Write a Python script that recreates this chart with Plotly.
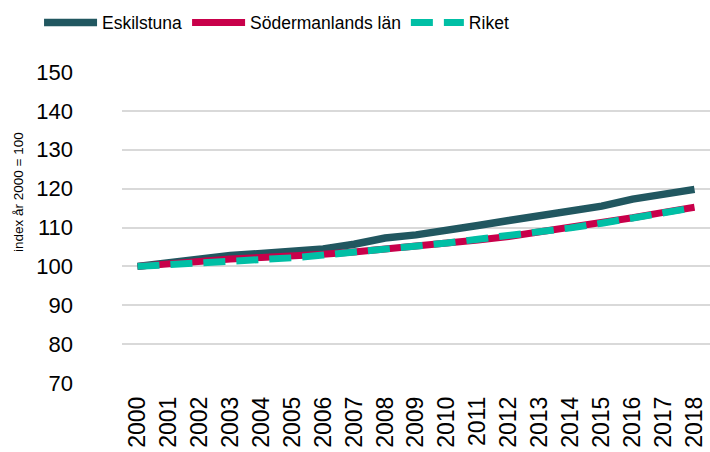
import plotly.graph_objects as go

years = [str(y) for y in range(2000, 2019)]
eskilstuna = [100, 101.0, 102.2, 102.8, 103.3, 103.8, 104.5, 105.7, 107.3, 108.1,
              109.1, 110.5, 111.8, 113.0, 114.3, 115.5, 117.3, 118.6, 119.8]
sodermanland = [100, 100.7, 101.3, 101.9, 102.3, 102.6, 103.1, 103.7, 104.4, 105.1,
                105.8, 106.8, 107.7, 108.8, 109.9, 111.1, 112.5, 113.9, 115.2]
riket = [100, 100.4, 100.9, 101.3, 101.7, 102.2, 102.9, 103.6, 104.5, 105.3,
         106.0, 107.0, 107.9, 108.9, 109.9, 111.1, 112.4, 113.8, 115.1]
y_ticks = [70, 80, 90, 100, 110, 120, 130, 140, 150]
y_title = "index år 2000 = 100"

font = "Liberation Sans, Arial, sans-serif"

fig = go.Figure()
fig.add_trace(go.Scatter(x=years, y=eskilstuna, name="Eskilstuna", mode="lines",
                         line=dict(color="#215760", width=7.5)))
fig.add_trace(go.Scatter(x=years, y=sodermanland, name="Södermanlands län", mode="lines",
                         line=dict(color="#C8004A", width=7)))
fig.add_trace(go.Scatter(x=years, y=riket, name="Riket", mode="lines",
                         line=dict(color="#00BFA5", width=7, dash="22px,11px")))

fig.update_layout(
    width=710, height=452,
    margin=dict(l=122, r=0, t=72, b=69, autoexpand=False),
    paper_bgcolor="white", plot_bgcolor="white",
    font=dict(family=font, size=22, color="#000000"),
    showlegend=True,
    legend=dict(orientation="h", xref="container", x=0.055, xanchor="left",
                yref="container", y=0.99, yanchor="top",
                font=dict(size=17.5, family=font), itemwidth=53,
                bgcolor="rgba(0,0,0,0)", traceorder="normal"),
    xaxis=dict(type="category", range=[-0.5, 18.5], tickangle=-90, showgrid=False,
               showline=False, ticks="", tickfont=dict(size=23), ticklabelstandoff=8,
               automargin=False),
    yaxis=dict(range=[70, 150], tickvals=y_ticks, showgrid=True, gridcolor="#D9D9D9",
               gridwidth=2, zeroline=False, showline=False, ticks="",
               tickfont=dict(size=22), ticklabelstandoff=48, automargin=False),
    annotations=[dict(text=y_title, textangle=-90, showarrow=False,
                      xref="paper", yref="paper", x=-0.177, y=0.614,
                      xanchor="center", yanchor="middle",
                      font=dict(size=13.5, family=font, color="#000000"))],
)

fig.write_html("out.html", config={"displayModeBar": False},
               post_script="document.body.style.margin='0';document.body.style.padding='0';")
